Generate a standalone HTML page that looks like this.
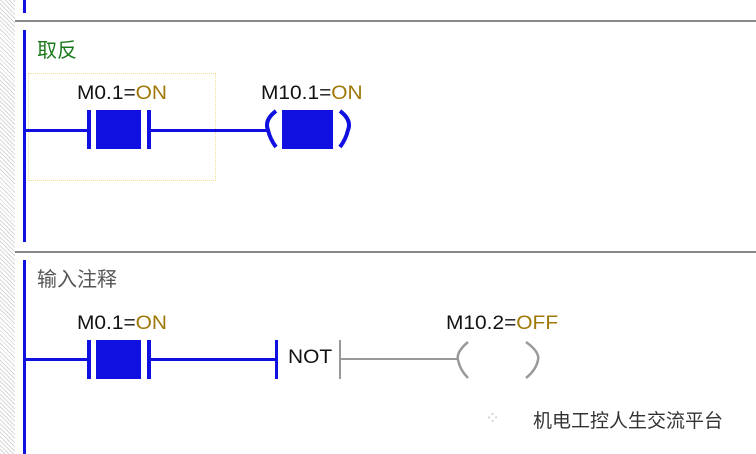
<!DOCTYPE html>
<html><head><meta charset="utf-8"><style>
body{margin:0;width:756px;height:454px;background:#fff;overflow:hidden;position:relative;font-family:"Liberation Sans","Noto Sans CJK SC",sans-serif}
.a{position:absolute}
.hatch{left:0;top:0;width:15px;height:454px;background:repeating-linear-gradient(45deg,#d8d8d8 0 1px,#fff 1px 3px)}
.rail{background:#1010e0;width:3px;left:23px}
.lbl{font-size:19px;color:#111;white-space:nowrap;transform:scaleX(1.1);transform-origin:left}
.lbl b{font-weight:normal;color:#a07808}
.bl{background:#1010e0}
.gr{background:#999}
</style></head><body>
<div class="a hatch"></div>
<div class="a rail" style="top:0;height:13px"></div>
<div class="a" style="left:15px;top:20px;width:741px;height:2px;background:#888"></div>
<div class="a rail" style="top:30px;height:212px"></div>
<div class="a" style="left:15px;top:251px;width:741px;height:2px;background:#888"></div>
<div class="a rail" style="top:260px;height:194px"></div>

<div class="a" style="left:37px;top:34px;font-size:20px;color:#1a7a1a">取反</div>
<div class="a" style="left:28px;top:73px;width:186px;height:106px;border:1px dotted #f0e090"></div>
<div class="a lbl" style="left:77px;top:83px">M0.1=<b>ON</b></div>
<div class="a lbl" style="left:261px;top:83px">M10.1=<b>ON</b></div>
<div class="a bl" style="left:25px;top:129px;width:62px;height:3px"></div>
<div class="a bl" style="left:87px;top:110px;width:4px;height:39px"></div>
<div class="a bl" style="left:96px;top:110px;width:45px;height:39px"></div>
<div class="a bl" style="left:147px;top:110px;width:4px;height:39px"></div>
<div class="a bl" style="left:151px;top:129px;width:118px;height:3px"></div>
<svg class="a" style="left:260px;top:105px" width="100" height="50"><path d="M16 6 Q4 15 8 25 Q10 34 16 42" stroke="#1010e0" stroke-width="4" fill="none"/><rect x="22" y="5" width="51" height="39" fill="#1010e0"/><path d="M80 6 Q92 15 88 25 Q86 34 80 42" stroke="#1010e0" stroke-width="4" fill="none"/></svg>

<div class="a" style="left:37px;top:263px;font-size:20px;color:#555">输入注释</div>
<div class="a lbl" style="left:77px;top:313px">M0.1=<b>ON</b></div>
<div class="a lbl" style="left:446px;top:313px">M10.2=<b>OFF</b></div>
<div class="a bl" style="left:25px;top:358px;width:62px;height:3px"></div>
<div class="a bl" style="left:87px;top:340px;width:4px;height:39px"></div>
<div class="a bl" style="left:96px;top:340px;width:45px;height:39px"></div>
<div class="a bl" style="left:147px;top:340px;width:4px;height:39px"></div>
<div class="a bl" style="left:151px;top:358px;width:124px;height:3px"></div>
<div class="a bl" style="left:275px;top:340px;width:3px;height:39px"></div>
<div class="a lbl" style="left:288px;top:347px">NOT</div>
<div class="a gr" style="left:339px;top:340px;width:2px;height:39px"></div>
<div class="a gr" style="left:341px;top:358px;width:118px;height:2px"></div>
<svg class="a" style="left:450px;top:340px" width="100" height="42"><path d="M18 2 Q6 12 8 20 Q10 30 18 38" stroke="#999" stroke-width="2.5" fill="none"/><path d="M76 2 Q90 12 88 20 Q86 30 76 38" stroke="#999" stroke-width="2.5" fill="none"/></svg>
<div class="a" style="left:485px;top:408px;font-size:18px;color:#ccc">⁘</div>
<div class="a" style="left:533px;top:406px;font-size:19px;color:#333">机电工控人生交流平台</div>
</body></html>
